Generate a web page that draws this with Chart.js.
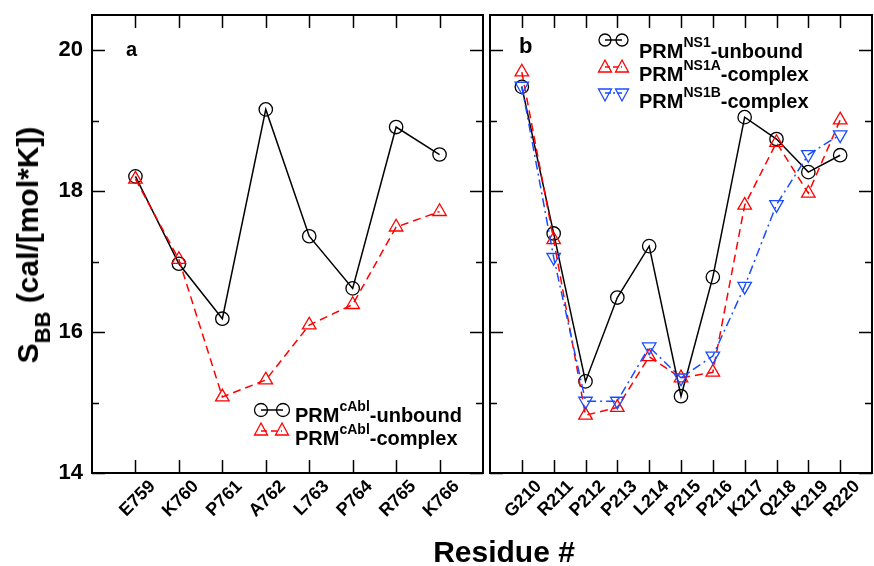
<!DOCTYPE html>
<html>
<head>
<meta charset="utf-8">
<script src="https://cdn.jsdelivr.net/npm/chart.js@4.4.1/dist/chart.umd.min.js"></script>
<style>
  body { margin: 0; background: #fff; }
  #wrap { position: relative; width: 874px; height: 566px; overflow: hidden;
          font-family: "Liberation Sans", Arial, sans-serif; font-weight: bold; color: #000; }
  canvas { position: absolute; top: 0; }
  #chartA { left: 0; }
  #chartB { left: 487px; }
  .txt { position: absolute; white-space: nowrap; line-height: 20px; font-size: 20px; }
  .txt sup { font-size: 14px; position: relative; top: -3px; vertical-align: 8px; }
  .sym { position: absolute; }
  #ytitle { position: absolute; left: 28px; top: 245px; font-size: 30px; white-space: nowrap;
            transform: translate(-50%, -50%) rotate(-90deg); }
  #ytitle span { font-size: 22px; position: relative; top: 12px; }
  #xtitle { position: absolute; left: 504px; top: 552px; font-size: 30px; white-space: nowrap;
            transform: translate(-50%, -50%); }
</style>
</head>
<body>
<div id="wrap">
  <canvas id="chartA" width="487" height="566"></canvas>
  <canvas id="chartB" width="387" height="566"></canvas>

  <div id="ytitle">S<span>BB</span> (cal/[mol*K])</div>
  <div id="xtitle">Residue #</div>

  <div class="txt" style="left:126px; top:39px;">a</div>
  <div class="txt" style="left:519px; top:36px; font-size:22px;">b</div>

  <!-- legend panel a -->
  <svg class="sym" style="left:250px; top:400px;" width="44" height="40">
    <line x1="11" y1="10" x2="33" y2="10" stroke="#000" stroke-width="1.5"/>
    <circle cx="11" cy="10" r="6.5" fill="none" stroke="#000" stroke-width="1.3"/>
    <circle cx="33" cy="10" r="6.5" fill="none" stroke="#000" stroke-width="1.3"/>
    <line x1="11" y1="31" x2="32" y2="31" stroke="#f00" stroke-width="1.5" stroke-dasharray="6,4"/>
    <polygon points="11,23 17.5,35 4.5,35" fill="none" stroke="#f00" stroke-width="1.3"/>
    <polygon points="32,23 38.5,35 25.5,35" fill="none" stroke="#f00" stroke-width="1.3"/>
  </svg>
  <div class="txt" style="left:295px; top:399px;">PRM<sup>cAbl</sup>-unbound</div>
  <div class="txt" style="left:295px; top:422px;">PRM<sup>cAbl</sup>-complex</div>

  <!-- legend panel b -->
  <svg class="sym" style="left:595px; top:30px;" width="40" height="78">
    <line x1="10" y1="10" x2="27" y2="10" stroke="#000" stroke-width="1.5"/>
    <circle cx="10" cy="10" r="6" fill="none" stroke="#000" stroke-width="1.3"/>
    <circle cx="27" cy="10" r="6" fill="none" stroke="#000" stroke-width="1.3"/>
    <line x1="10" y1="37" x2="27" y2="37" stroke="#f00" stroke-width="1.5" stroke-dasharray="5,3"/>
    <polygon points="10,30 16.5,42 3.5,42" fill="none" stroke="#f00" stroke-width="1.3"/>
    <polygon points="27,30 33.5,42 20.5,42" fill="none" stroke="#f00" stroke-width="1.3"/>
    <line x1="10" y1="63" x2="27" y2="63" stroke="#1a4cff" stroke-width="1.5" stroke-dasharray="6,2,2,2"/>
    <polygon points="10,71 16.5,59 3.5,59" fill="none" stroke="#1a4cff" stroke-width="1.3"/>
    <polygon points="27,71 33.5,59 20.5,59" fill="none" stroke="#1a4cff" stroke-width="1.3"/>
  </svg>
  <div class="txt" style="left:639px; top:35px;">PRM<sup>NS1</sup>-unbound</div>
  <div class="txt" style="left:639px; top:58px;">PRM<sup>NS1A</sup>-complex</div>
  <div class="txt" style="left:639px; top:85px;">PRM<sup>NS1B</sup>-complex</div>
</div>

<script>
const residuesA = ['E759', 'K760', 'P761', 'A762', 'L763', 'P764', 'R765', 'K766'];
const cablUnbound = [18.21, 16.97, 16.19, 19.16, 17.36, 16.62, 18.91, 18.52];
const cablComplex = [18.17, 17.03, 15.08, 15.32, 16.10, 16.39, 17.49, 17.71];

const residuesB = ['G210', 'R211', 'P212', 'P213', 'L214', 'P215', 'P216', 'K217', 'Q218', 'K219', 'R220'];
const ns1Unbound = [19.48, 17.40, 15.30, 16.49, 17.22, 15.09, 16.78, 19.05, 18.74, 18.27, 18.51];
const ns1aComplex = [19.69, 17.31, 14.82, 14.93, 15.65, 15.35, 15.43, 17.80, 18.69, 17.97, 19.01];
const ns1bComplex = [19.49, 17.06, 15.02, 15.02, 15.79, 15.35, 15.66, 16.65, 17.81, 18.52, 18.80];

const yTicks = [14, 15, 16, 17, 18, 19, 20];
const yLabelTicks = [14, 16, 18, 20];

const BLUE = '#1a4cff';
const FONT = "'Liberation Sans', Arial, sans-serif";

function points(values) {
  return values.map((v, i) => ({ x: i, y: v }));
}

// inward tick marks on all four sides plus the box
const frameTicks = {
  id: 'frameTicks',
  afterDraw(chart) {
    const { ctx, chartArea: a, scales: { x, y } } = chart;
    const n = chart.options.plugins.frameTicks.count;
    ctx.save();
    ctx.strokeStyle = '#000';
    ctx.lineWidth = 1.5;
    ctx.beginPath();
    for (let i = 0; i < n; i++) {
      const px = Math.round(x.getPixelForValue(i)) + 0.5;
      ctx.moveTo(px, a.bottom); ctx.lineTo(px, a.bottom - 13);
      ctx.moveTo(px, a.top); ctx.lineTo(px, a.top + 13);
    }
    yTicks.forEach(v => {
      const py = Math.round(y.getPixelForValue(v)) + 0.5;
      const len = yLabelTicks.includes(v) ? 13 : 7;
      ctx.moveTo(a.left, py); ctx.lineTo(a.left + len, py);
      ctx.moveTo(a.right, py); ctx.lineTo(a.right - len, py);
    });
    ctx.stroke();
    ctx.lineWidth = 2;
    ctx.strokeRect(a.left, a.top, a.right - a.left, a.bottom - a.top);
    ctx.restore();
  }
};

function lineSet(values, color, dash, pointStyle, rotation) {
  return {
    data: points(values),
    borderColor: color,
    borderWidth: 1.5,
    borderDash: dash,
    pointStyle: pointStyle,
    pointRotation: rotation,
    pointRadius: pointStyle === 'circle' ? 6.7 : 7.8,
    pointBorderWidth: 1.3,
    pointBorderColor: color,
    pointBackgroundColor: 'rgba(0,0,0,0)',
    tension: 0
  };
}

function makeChart(id, labels, datasets, showY, padding) {
  return new Chart(document.getElementById(id), {
    type: 'line',
    data: { datasets },
    options: {
      responsive: false,
      animation: false,
      devicePixelRatio: 1,
      layout: { padding, autoPadding: false },
      plugins: {
        legend: { display: false },
        tooltip: { enabled: false },
        frameTicks: { count: labels.length }
      },
      scales: {
        x: {
          type: 'linear',
          min: -1,
          max: labels.length,
          grid: { display: false, drawTicks: false },
          border: { display: false },
          afterFit: s => {
            s.height = 93;
            s.paddingLeft = 0;
            s.paddingRight = 0;
          },
          ticks: {
            stepSize: 1,
            autoSkip: false,
            minRotation: 45,
            maxRotation: 45,
            padding: 3,
            labelOffset: 17,
            color: '#000',
            font: { family: FONT, size: 18, weight: 'bold' },
            callback: v => labels[v] ?? ''
          }
        },
        y: {
          display: showY,
          min: 14,
          max: 20.5,
          grid: { display: false, drawTicks: false },
          border: { display: false },
          afterFit: s => {
            s.width = showY ? 92 : 0;
            s.paddingTop = 0;
            s.paddingBottom = 0;
          },
          ticks: {
            stepSize: 2,
            includeBounds: false,
            padding: 9,
            color: '#000',
            font: { family: FONT, size: 22, weight: 'bold' }
          }
        }
      }
    },
    plugins: [frameTicks]
  });
}

makeChart('chartA', residuesA, [
  lineSet(cablComplex, '#f00', [8, 5], 'triangle', 0),
  lineSet(cablUnbound, '#000', [], 'circle', 0)
], true, { top: 15, right: 4, left: 0, bottom: 0 });

makeChart('chartB', residuesB, [
  lineSet(ns1bComplex, BLUE, [9, 4, 2, 4], 'triangle', 180),
  lineSet(ns1aComplex, '#f00', [8, 5], 'triangle', 0),
  lineSet(ns1Unbound, '#000', [], 'circle', 0)
], false, { top: 15, right: 2, left: 3, bottom: 0 });
</script>
</body>
</html>
